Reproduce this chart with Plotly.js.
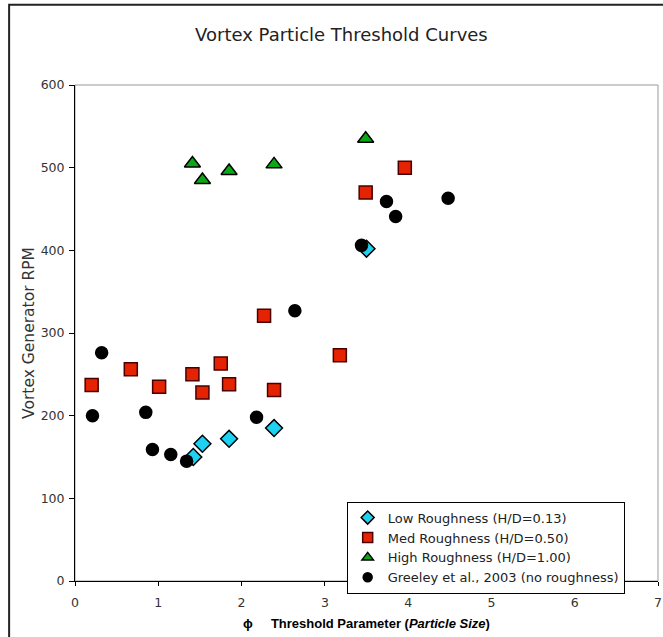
<!DOCTYPE html>
<html>
<head>
<meta charset="utf-8">
<script src="https://cdn.plot.ly/plotly-3.0.1.min.js"></script>
<style>html,body{margin:0;padding:0;background:#fff;} #chart{width:663px;height:637px;}</style>
</head>
<body>
<div id="chart"></div>
<script>
// Low Roughness (H/D=0.13)
const lowX = [1.42, 1.53, 1.85, 2.39, 3.50];
const lowY = [150, 166, 172, 185, 402];
// Med Roughness (H/D=0.50)
const medX = [0.20, 0.67, 1.01, 1.41, 1.53, 1.75, 1.85, 2.27, 2.39, 3.18, 3.49, 3.96];
const medY = [237, 256, 235, 250, 228, 263, 238, 321, 231, 273, 470, 500];
// High Roughness (H/D=1.00)
const highX = [1.41, 1.53, 1.85, 2.39, 3.49];
const highY = [505, 485, 496, 504, 535];
// Greeley et al., 2003 (no roughness)
const grX = [0.21, 0.32, 0.85, 0.93, 1.15, 1.34, 2.18, 2.64, 3.44, 3.74, 3.85, 4.48];
const grY = [200, 276, 204, 159, 153, 145, 198, 327, 406, 459, 441, 463];

const names = ['Low Roughness (H/D=0.13)', 'Med Roughness (H/D=0.50)', 'High Roughness (H/D=1.00)', 'Greeley et al., 2003 (no roughness)'];
const xTicks = [0, 1, 2, 3, 4, 5, 6, 7];
const yTicks = [0, 100, 200, 300, 400, 500, 600];

const styles = [
  {symbol: 'diamond', color: '#1ed0f2', line: '#000', size: 13, lsize: 10},
  {symbol: 'square', color: '#e62300', line: '#4a0000', size: 13, lsize: 10},
  {symbol: 'triangle-up', color: '#0aa814', line: '#000', size: 14, lsize: 10},
  {symbol: 'circle', color: '#000', line: '#000', size: 12, lsize: 9}
];
const series = [[lowX, lowY], [medX, medY], [highX, highY], [grX, grY]];

const traces = [];
series.forEach((s, i) => {
  const st = styles[i];
  traces.push({x: s[0], y: s[1], name: names[i], type: 'scatter', mode: 'markers', showlegend: false,
    marker: {symbol: st.symbol, size: st.size, color: st.color, line: {color: st.line, width: 1.5}}});
});
// legend-only entries with smaller symbols
series.forEach((s, i) => {
  const st = styles[i];
  traces.push({x: [null], y: [null], name: names[i], type: 'scatter', mode: 'markers', showlegend: true,
    marker: {symbol: st.symbol, size: st.lsize, color: st.color, line: {color: st.line, width: 1.5}}});
});

const layout = {
  width: 663, height: 637,
  margin: {l: 75, r: 5, t: 85, b: 56},
  paper_bgcolor: '#fff', plot_bgcolor: '#fff',
  font: {family: 'DejaVu Sans, sans-serif', color: '#222', size: 12},
  title: {text: 'Vortex Particle Threshold Curves', x: 0.515, xanchor: 'center', y: 0.945, yanchor: 'middle',
          font: {family: 'DejaVu Sans, sans-serif', size: 18, color: '#222'}},
  xaxis: {range: [0, 7], tickvals: xTicks, ticktext: xTicks.map(String), ticks: 'outside', ticklen: 4,
          tickcolor: '#000', showline: true, linecolor: '#000', linewidth: 1, showgrid: false, zeroline: false,
          ticklabelstandoff: 6,
          tickfont: {family: 'DejaVu Sans, sans-serif', size: 12.5, color: '#333'},
          title: {text: '<b>ϕ</b>\u00A0\u00A0\u00A0\u00A0\u00A0<b>Threshold Parameter (<i>Particle Size</i>)</b>', standoff: 9,
                  font: {family: 'Liberation Sans, Arial, sans-serif', size: 13, color: '#000'}}},
  yaxis: {range: [0, 600], tickvals: yTicks, ticktext: yTicks.map(String), ticks: 'outside', ticklen: 5,
          tickcolor: '#000', showline: true, linecolor: '#000', linewidth: 1, showgrid: false, zeroline: false,
          ticklabelstandoff: 2,
          tickfont: {family: 'DejaVu Sans, sans-serif', size: 12.5, color: '#333'},
          title: {text: 'Vortex Generator RPM', standoff: 2,
                  font: {family: 'DejaVu Sans, sans-serif', size: 15.5, color: '#333'}}},
  showlegend: true,
  legend: {x: 0.466, xanchor: 'left', y: 0.16, yanchor: 'top', bgcolor: '#fff', bordercolor: '#000', borderwidth: 1,
           font: {family: 'DejaVu Sans, sans-serif', size: 13, color: '#222'}, itemwidth: 30, tracegroupgap: 0},
  shapes: [
    {type: 'rect', xref: 'paper', yref: 'paper', x0: 0, x1: 1, y0: 0, y1: 1, line: {color: '#999', width: 1}, layer: 'below'},
    {type: 'rect', xref: 'paper', yref: 'paper', x0: -0.113, x1: 1.05, y0: -0.2, y1: 1.162, line: {color: '#222', width: 2}, layer: 'below'}
  ]
};

Plotly.newPlot('chart', traces, layout, {displayModeBar: false, staticPlot: true});
</script>
</body>
</html>
